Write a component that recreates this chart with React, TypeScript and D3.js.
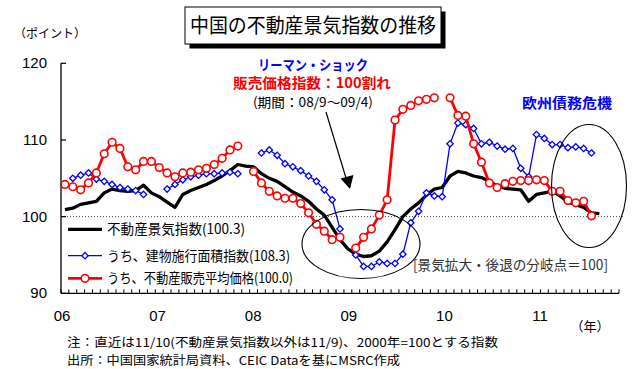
import React from "react";
import * as d3 from "d3";

// ---- categories (monthly slots) ----
const months: string[] = d3
  .timeMonth.range(new Date(2006, 0, 1), new Date(2011, 11, 1))
  .map((d) => d3.timeFormat("%Y-%m")(d));
const yearLabels = ["06", "07", "08", "09", "10", "11"];
const yTicks = [90, 100, 110, 120];

// ---- series ----
const climateIndex: (number | null)[] = [
  100.9, 101.1, 101.6, 101.8, 102.0, 103.1, 103.6, 103.4, 103.3, 103.4, 104.1, 103.1,
  102.6, 101.9, 101.2, 102.9, 103.4, 103.8, 104.2, 104.7, 105.3, 106.0, 106.8, 106.6,
  106.5, 105.6, 105.0, 104.6, 103.9, 103.2, 102.7, 102.0, 101.0, 100.2, 98.6, 97.0,
  95.8, 95.1, 94.8, 94.9, 95.5, 96.7, 98.3, 100.0, 101.0, 101.8, 102.8, 103.6,
  103.8, 105.3, 105.9, 105.7, 105.3, 105.1, 104.6, 104.0, 103.7, 103.6, 103.5, 102.0,
  102.9, 103.1, 103.3, 102.7, 101.9, 101.6, 101.2, 100.5, 100.4, null, null,
];
const floorSpaceIndex: (number | null)[] = [
  null, 105.0, 105.4, 105.7, 104.9, 104.6, 104.2, 103.8, 103.6, 103.4, 102.9, null,
  null, 103.6, 104.2, 104.8, 105.2, 105.4, 105.6, 105.6, 105.7, 105.8, 105.6, null,
  null, 108.3, 108.7, 108.0, 106.9, 106.5, 106.0, 105.3, 104.6, 103.5, 102.2, 98.4,
  null, 95.0, 93.5, 93.5, 94.1, 93.9, 93.9, 95.1, 99.2, 100.7, 103.1, 102.7,
  102.6, 109.5, 112.2, 112.0, 111.5, 109.5, 109.7, 109.2, 108.8, 108.9, 106.3, 105.2,
  110.7, 110.2, 109.4, 109.4, 109.0, 109.1, 108.9, 108.3, null, null, null,
];
const salesPriceIndex: (number | null)[] = [
  104.2, 103.9, 103.5, 104.4, 105.7, 108.2, 109.7, 108.9, 106.5, 106.1, 107.2, 107.2,
  106.4, 105.7, 105.2, 105.7, 105.8, 106.1, 106.3, 106.8, 107.6, 108.7, 109.2, null,
  105.9, 104.4, 103.3, 102.7, 102.4, 102.4, 101.7, 100.5, 99.0, 98.1, 97.0, 97.3,
  null, 95.9, 97.3, 98.4, 100.2, 102.2, 112.6, 114.0, 114.5, 115.1, 115.3, 115.5,
  null, 115.5, 113.2, 113.1, 109.5, 107.1, 104.4, 103.8, 104.3, 104.6, 104.7, 104.7,
  104.8, 104.7, 103.3, 103.3, 102.1, 101.8, 102.0, 100.1, null, null, null,
];

const legendItems = [
  { label: "不動産景気指数(100.3)", kind: "black" },
  { label: "うち、建物施行面積指数(108.3)", kind: "blue" },
  { label: "うち、不動産販売平均価格(100.0)", kind: "red" },
];

const JP = "'Noto Sans CJK JP', 'Noto Sans', sans-serif";
const NUM = "'Liberation Sans', Arial, sans-serif";

export default function App() {
  const W = 634,
    H = 369;
  const x = d3.scaleBand<string>().domain(months).range([61, 619]).padding(0);
  const y = d3.scaleLinear().domain([90, 120]).range([293.3, 63.3]);
  const cx = (i: number) => (x(months[i]) as number) + x.bandwidth() / 2;
  const yearX = d3.scaleLinear().domain([0, yearLabels.length - 1]).range([62, 540]);

  const line = d3
    .line<number | null>()
    .defined((d) => d != null)
    .x((_, i) => cx(i))
    .y((d) => y(d as number));

  const diamond = (px: number, py: number, r = 3.2) =>
    `M${px},${py - r}L${px + r},${py}L${px},${py + r}L${px - r},${py}Z`;

  const xTickPos = months.map((m) => x(m) as number).concat([619]);

  return (
    <svg
      width={W}
      height={H}
      style={{ position: "absolute", left: 0, top: 0, background: "#fff" }}
    >
      <rect x={0} y={0} width={W} height={H} fill="#fff" />
      {/* title */}
      <rect x={189.5} y={11.5} width={256} height={37} fill="#000" />
      <rect x={185} y={7} width={256} height={37} fill="#fff" stroke="#000" strokeWidth={1} />
      <text
        x={313}
        y={33}
        fontFamily={JP}
        fontSize={20}
        textAnchor="middle"
        textLength={246}
        lengthAdjust="spacingAndGlyphs"
      >
        中国の不動産景気指数の推移
      </text>
      <text x={14} y={38} fontFamily={JP} fontSize={12}>
        （ポイント）
      </text>

      {/* dotted 100 line */}
      <line
        x1={61}
        x2={625}
        y1={y(100)}
        y2={y(100)}
        stroke="#444"
        strokeWidth={1}
        strokeDasharray="1,2"
      />

      {/* axes */}
      <line x1={61} x2={61} y1={y(120)} y2={y(90)} stroke="#000" strokeWidth={1.3} />
      <line x1={61} x2={619} y1={y(90)} y2={y(90)} stroke="#000" strokeWidth={1.3} />
      {yTicks.map((t) => (
        <g key={t}>
          <line x1={61} x2={66} y1={y(t)} y2={y(t)} stroke="#000" strokeWidth={1.2} />
          <text
            x={47}
            y={y(t) + 5}
            fontFamily={NUM}
            fontSize={15}
            textAnchor="end"
          >
            {t}
          </text>
        </g>
      ))}
      {xTickPos.map((p, i) => (
        <line key={i} x1={p} x2={p} y1={y(90)} y2={y(90) - 4} stroke="#000" strokeWidth={1} />
      ))}
      {yearLabels.map((l, k) => (
        <text
          key={l}
          x={yearX(k)}
          y={321}
          fontFamily={NUM}
          fontSize={15}
          textAnchor="middle"
        >
          {l}
        </text>
      ))}
      <text x={590} y={331} fontFamily={JP} fontSize={13} textAnchor="middle">
        （年）
      </text>

      {/* series */}
      <path d={line(climateIndex) || ""} fill="none" stroke="#000" strokeWidth={3.3} strokeLinejoin="round" />
      <path d={line(floorSpaceIndex) || ""} fill="none" stroke="#0000ff" strokeWidth={1.3} />
      {floorSpaceIndex.map((v, i) =>
        v == null ? null : (
          <path key={i} d={diamond(cx(i), y(v))} fill="#fff" stroke="#0000ff" strokeWidth={1.3} />
        )
      )}
      <path d={line(salesPriceIndex) || ""} fill="none" stroke="#ff0000" strokeWidth={2.8} strokeLinejoin="round" />
      {salesPriceIndex.map((v, i) =>
        v == null ? null : (
          <circle key={i} cx={cx(i)} cy={y(v)} r={3.8} fill="#fff" stroke="#ff0000" strokeWidth={1.6} />
        )
      )}

      {/* legend */}
      {legendItems.map((it, k) => {
        const ly = [229.3, 255.7, 278.3][k];
        const color = it.kind === "black" ? "#000" : it.kind === "blue" ? "#0000ff" : "#ff0000";
        const sw = it.kind === "black" ? 3.3 : it.kind === "blue" ? 1.3 : 2.8;
        const tl = [138, 183, 186][k];
        return (
          <g key={it.label}>
            <line x1={68} x2={102} y1={ly} y2={ly} stroke={color} strokeWidth={sw} />
            {it.kind === "blue" && (
              <path d={diamond(85, ly)} fill="#fff" stroke={color} strokeWidth={1.3} />
            )}
            {it.kind === "red" && (
              <circle cx={85} cy={ly} r={3.8} fill="#fff" stroke={color} strokeWidth={1.6} />
            )}
            <text
              x={107}
              y={ly + 5}
              fontFamily={JP}
              fontSize={14}
              textLength={tl}
              lengthAdjust="spacingAndGlyphs"
            >
              {it.label}
            </text>
          </g>
        );
      })}

      {/* annotations */}
      <text x={313} y={70} fontFamily={JP} fontSize={14} fontWeight="bold" fill="#0000ff" textAnchor="middle" textLength={110} lengthAdjust="spacingAndGlyphs">
        リーマン・ショック
      </text>
      <text x={312} y={88} fontFamily={JP} fontSize={14} fontWeight="bold" fill="#ff0000" textAnchor="middle" textLength={158} lengthAdjust="spacingAndGlyphs">
        販売価格指数：100割れ
      </text>
      <text x={313} y={107} fontFamily={JP} fontSize={13} textAnchor="middle" textLength={120} lengthAdjust="spacingAndGlyphs">
        (期間：08/9〜09/4)
      </text>
      <line x1={326} y1={112} x2={346} y2={178} stroke="#000" strokeWidth={1.2} />
      <path d="M350,189 L340.5,178.5 L353.5,175 Z" fill="#000" />
      <text x={567} y={108} fontFamily={JP} fontSize={14} fontWeight="bold" fill="#0000ff" textAnchor="middle" textLength={90} lengthAdjust="spacingAndGlyphs">
        欧州債務危機
      </text>
      <ellipse cx={361} cy={244} rx={59} ry={34.5} fill="none" stroke="#000" strokeWidth={1.1} />
      <ellipse cx={589} cy={186} rx={37.5} ry={61.5} fill="none" stroke="#000" strokeWidth={1.1} />
      <text x={413} y={270} fontFamily={JP} fontSize={14} fill="#333" textLength={195} lengthAdjust="spacingAndGlyphs">
        [景気拡大・後退の分岐点＝100]
      </text>

      {/* notes */}
      <text x={67} y={347} fontFamily={JP} fontSize={12} textLength={431} lengthAdjust="spacingAndGlyphs">
        注：直近は11/10(不動産景気指数以外は11/9)、2000年=100とする指数
      </text>
      <text x={67} y={365} fontFamily={JP} fontSize={12} textLength={333} lengthAdjust="spacingAndGlyphs">
        出所：中国国家統計局資料、CEIC Dataを基にMSRC作成
      </text>
    </svg>
  );
}
